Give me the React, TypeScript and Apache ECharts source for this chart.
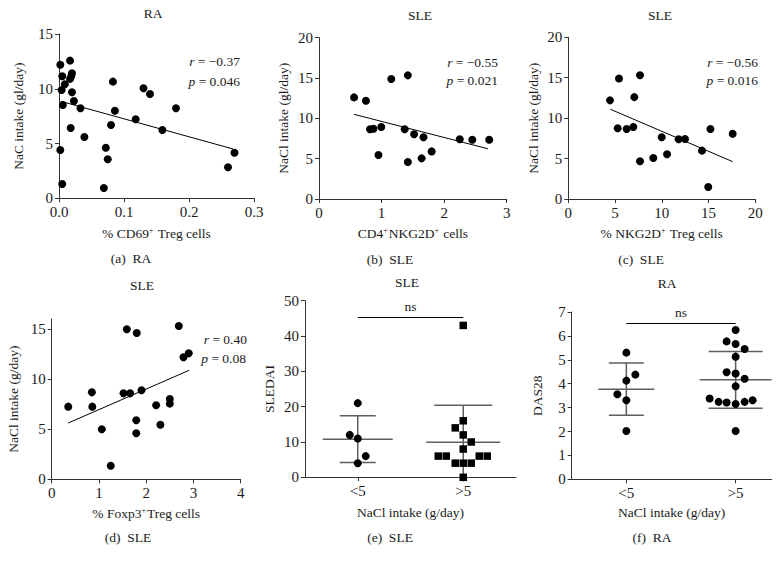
import React, { useEffect, useRef } from 'react';
import * as echarts from 'echarts';

// (a) RA: % CD69+ Treg cells vs NaCl intake
const aX = [0.002, 0.017, 0.005, 0.020, 0.019, 0.017, 0.009, 0.004, 0.020, 0.023, 0.006, 0.033, 0.018, 0.039, 0.002, 0.005, 0.083, 0.086, 0.080, 0.072, 0.075, 0.069, 0.118, 0.130, 0.140, 0.159, 0.180, 0.270, 0.260];
const aY = [12.2, 12.57, 11.14, 11.42, 11.17, 10.9, 10.41, 9.89, 9.68, 8.89, 8.52, 8.22, 6.42, 5.6, 4.41, 1.31, 10.65, 8.0, 6.69, 4.62, 3.56, 0.94, 7.21, 10.05, 9.52, 6.24, 8.22, 4.16, 2.83];
const aFit = [[0.003, 8.85], [0.268, 4.5]];
const aStat = ['−0.37', '0.046'];

// (b) SLE: CD4+NKG2D+ cells
const bX = [0.56, 0.75, 1.155, 1.42, 0.815, 0.87, 0.995, 1.37, 1.52, 1.67, 2.25, 2.45, 2.72, 0.95, 1.42, 1.64, 1.80];
const bY = [12.6, 12.18, 14.87, 15.33, 8.64, 8.71, 8.92, 8.64, 8.02, 7.65, 7.4, 7.35, 7.35, 5.45, 4.58, 5.04, 5.9];
const bFit = [[0.56, 10.5], [2.70, 6.23]];
const bStat = ['−0.55', '0.021'];

// (c) SLE: % NKG2D+ Treg cells
const cX = [4.46, 5.42, 7.67, 7.06, 5.28, 6.24, 6.95, 9.99, 11.8, 12.48, 15.2, 17.58, 7.67, 9.09, 10.56, 14.3, 14.97];
const cY = [12.2, 14.9, 15.3, 12.6, 8.75, 8.66, 8.91, 7.63, 7.39, 7.43, 8.66, 8.08, 4.66, 5.07, 5.53, 5.98, 1.49];
const cFit = [[4.5, 11.1], [17.58, 4.62]];
const cStat = ['−0.56', '0.016'];

// (d) SLE: % Foxp3+ Treg cells
const dX = [0.35, 0.85, 0.86, 1.06, 1.25, 1.59, 1.80, 1.52, 1.66, 1.90, 1.79, 1.79, 2.21, 2.30, 2.50, 2.50, 2.69, 2.79, 2.90];
const dY = [7.25, 8.68, 7.25, 4.99, 1.36, 14.97, 14.6, 8.58, 8.58, 8.88, 5.89, 4.59, 7.39, 5.45, 8.01, 7.55, 15.3, 12.18, 12.58];
const dFit = [[0.35, 5.62], [2.91, 10.88]];
const dStat = ['0.40', '0.08'];

// (e) SLE: SLEDAI by NaCl intake group
const groupLabels = ['<5', '>5'];
const eLow = [21, 12, 11, 6, 4];
const eHigh = [43, 16, 14, 12, 10, 8, 6, 6, 6, 6, 4, 4, 4, 0];
const eMean = [10.8, 9.9];
const eLower = [4.2, -0.5];
const eUpper = [17.4, 20.4];
const eBracket = 45.4;

// (f) RA: DAS28 by NaCl intake group
const fLow = [5.30, 4.38, 4.13, 3.56, 3.31, 2.02];
const fHigh = [6.25, 5.77, 5.66, 5.45, 5.13, 4.48, 4.43, 4.21, 3.89, 3.38, 3.24, 3.21, 3.15, 3.24, 3.31, 2.02];
const fMean = [3.77, 4.17];
const fLower = [2.68, 2.97];
const fUpper = [4.87, 5.35];
const fBracket = 6.55;

// visual jitter (px) and bar widths (px) — styling only
const eLowJit = [0, -8, 0, 8, 0];
const eHighJit = [0, 0, -8, 0, 8, 0, -25, -17, 16, 24, -8, 0, 8, 0];
const fLowJit = [0, 9, 0, -9, 0, 0];
const fHighJit = [0, -9, 0, 9, 0, -9, 0, 9, 0, -26, -17, -9, 0, 9, 17, 0];
const eMeanHalf = [35, 37];
const eCapHalf = [18, 29];
const fMeanHalf = [28, 36];
const fCapHalf = [17.5, 27];

const FONT = '"Liberation Serif", "DejaVu Serif", serif';
const TXT = '#1a1a1a';
const AX = '#333';
const ERR = '#5e5e5e';

const grids = [
  { left: 59, top: 34, width: 195, height: 164.3 },
  { left: 319, top: 37.7, width: 187.7, height: 161.3 },
  { left: 568.3, top: 37.3, width: 187, height: 161.7 },
  { left: 51.7, top: 319, width: 189, height: 160.3 },
  { left: 305, top: 300.7, width: 211, height: 176.6 },
  { left: 571.7, top: 312, width: 200, height: 167.3 },
];

const nameRich = {
  s: { fontSize: 8, fontFamily: FONT, color: TXT, verticalAlign: 'top', padding: [0, 1, 6, 0] },
};

function axis(gridIndex: number, o: any) {
  const { labelExtra, tickExtra, ...rest } = o;
  return {
    type: 'value',
    gridIndex,
    nameLocation: 'middle',
    nameTextStyle: { color: TXT, fontFamily: FONT, fontSize: 13.5, rich: nameRich },
    axisLine: { show: true, onZero: false, lineStyle: { color: AX, width: 1 } },
    axisTick: { show: true, length: 4, lineStyle: { color: AX, width: 1 }, ...(tickExtra || {}) },
    axisLabel: { color: TXT, fontFamily: FONT, fontSize: 15, margin: 6, ...(labelExtra || {}) },
    splitLine: { show: false },
    ...rest,
  };
}

const pairs = (xs: number[], ys: number[]) => xs.map((x, i) => [x, ys[i]]);

function scatter(idx: number, data: any[], symbol = 'circle', size = 8) {
  return {
    type: 'scatter', xAxisIndex: idx, yAxisIndex: idx, data, symbol, symbolSize: size,
    itemStyle: { color: '#000', opacity: 1 }, z: 3, silent: true,
  };
}

function fitLine(idx: number, pts: number[][]) {
  return {
    type: 'line', xAxisIndex: idx, yAxisIndex: idx, data: pts, showSymbol: false, symbol: 'none',
    lineStyle: { color: '#000', width: 1 }, z: 2, silent: true,
  };
}

function groupPoints(values: number[], group: number, jit: number[]) {
  return values.map((v, i) => ({ value: [group, v], symbolOffset: [jit[i], 0] }));
}

function errSeries(idx: number, mean: number[], lower: number[], upper: number[], meanHalf: number[], capHalf: number[]) {
  return {
    type: 'custom', xAxisIndex: idx, yAxisIndex: idx, clip: true, z: 1, silent: true,
    data: mean.map((m, i) => [i + 1, m, lower[i], upper[i]]),
    encode: { x: 0, y: 1 },
    renderItem: (params: any, api: any) => {
      const i = params.dataIndex;
      const x = api.value(0);
      const pm = api.coord([x, api.value(1)]);
      const plo = api.coord([x, api.value(2)]);
      const phi = api.coord([x, api.value(3)]);
      const mh = meanHalf[i];
      const ch = capHalf[i];
      const st = { stroke: ERR, lineWidth: 1.5 };
      return {
        type: 'group',
        children: [
          { type: 'line', shape: { x1: pm[0] - mh, y1: pm[1], x2: pm[0] + mh, y2: pm[1] }, style: st },
          { type: 'line', shape: { x1: plo[0], y1: plo[1], x2: phi[0], y2: phi[1] }, style: st },
          { type: 'line', shape: { x1: phi[0] - ch, y1: phi[1], x2: phi[0] + ch, y2: phi[1] }, style: st },
          { type: 'line', shape: { x1: plo[0] - ch, y1: plo[1], x2: plo[0] + ch, y2: plo[1] }, style: st },
        ],
      };
    },
  };
}

function bracket(idx: number, y: number) {
  return {
    type: 'scatter', xAxisIndex: idx, yAxisIndex: idx, data: [], silent: true,
    markLine: {
      silent: true, symbol: ['none', 'none'], animation: false,
      lineStyle: { color: '#000', width: 1, type: 'solid' },
      label: { show: true, position: 'middle', formatter: 'ns', color: TXT, fontFamily: FONT, fontSize: 13.5, distance: 3 },
      data: [[{ coord: [1, y] }, { coord: [2, y] }]],
    },
  };
}

function txt(x: number, y: number, text: string, align = 'center') {
  return {
    type: 'text', x, y,
    style: { text, fill: TXT, font: `13.5px ${FONT}`, align, verticalAlign: 'middle' },
  };
}

function stat(x: number, y: number, letter: string, val: string) {
  return {
    type: 'text', x, y,
    style: {
      text: `{i|${letter}} = ${val}`,
      fill: TXT, fontFamily: FONT, fontSize: 13.5, align: 'right', verticalAlign: 'middle',
      rich: { i: { fontStyle: 'italic', fontFamily: FONT, fontSize: 13.5, fill: TXT } },
    },
  };
}

const groupFmt = (v: number) => (v === 1 ? groupLabels[0] : v === 2 ? groupLabels[1] : '');

export default function App() {
  const ref = useRef<HTMLDivElement>(null);
  useEffect(() => {
    if (!ref.current) return;
    const chart = echarts.init(ref.current, undefined, { renderer: 'svg' });
    const option: any = {
      animation: false,
      backgroundColor: '#fff',
      grid: grids.map((g) => ({ ...g, containLabel: false })),
      xAxis: [
        axis(0, { min: 0, max: 0.3, interval: 0.1, name: '% CD69{s|+} Treg cells', nameGap: 28, labelExtra: { formatter: (v: number) => v.toFixed(1) } }),
        axis(1, { min: 0, max: 3, interval: 1, name: 'CD4{s|+}NKG2D{s|+} cells', nameGap: 27 }),
        axis(2, { min: 0, max: 20, interval: 5, name: '% NKG2D{s|+} Treg cells', nameGap: 27 }),
        axis(3, { min: 0, max: 4, interval: 1, name: '% Foxp3{s|+}Treg cells', nameGap: 27 }),
        axis(4, { min: 0.5, max: 2.5, name: 'NaCl intake (g/day)', nameGap: 28, labelExtra: { customValues: [1, 2], formatter: groupFmt }, tickExtra: { customValues: [1, 2] } }),
        axis(5, { min: 0.5, max: 2.33, name: 'NaCl intake (g/day)', nameGap: 26, labelExtra: { customValues: [1, 2], formatter: groupFmt }, tickExtra: { customValues: [1, 2] } }),
      ],
      yAxis: [
        axis(0, { min: 0, max: 15, interval: 5, name: 'NaC intake (gl/day)', nameGap: 34 }),
        axis(1, { min: 0, max: 20, interval: 5, name: 'NaCl intake (gl/day)', nameGap: 29 }),
        axis(2, { min: 0, max: 20, interval: 5, name: 'NaCl intake (gl/day)', nameGap: 28 }),
        axis(3, { min: 0, max: 16, interval: 5, name: 'NaCl intake (g/day)', nameGap: 31, labelExtra: { customValues: [0, 5, 10, 15] }, tickExtra: { customValues: [0, 5, 10, 15] } }),
        axis(4, { min: 0, max: 50, interval: 10, name: 'SLEDAI', nameGap: 29 }),
        axis(5, { min: 0, max: 7, interval: 1, name: 'DAS28', nameGap: 27 }),
      ],
      series: [
        scatter(0, pairs(aX, aY)), fitLine(0, aFit),
        scatter(1, pairs(bX, bY)), fitLine(1, bFit),
        scatter(2, pairs(cX, cY)), fitLine(2, cFit),
        scatter(3, pairs(dX, dY)), fitLine(3, dFit),
        errSeries(4, eMean, eLower, eUpper, eMeanHalf, eCapHalf),
        scatter(4, groupPoints(eLow, 1, eLowJit)),
        scatter(4, groupPoints(eHigh, 2, eHighJit), 'rect', 7.5),
        bracket(4, eBracket),
        errSeries(5, fMean, fLower, fUpper, fMeanHalf, fCapHalf),
        scatter(5, groupPoints(fLow, 1, fLowJit)),
        scatter(5, groupPoints(fHigh, 2, fHighJit)),
        bracket(5, fBracket),
      ],
      graphic: [
        txt(153, 13.5, 'RA'),
        txt(420, 15.5, 'SLE'),
        txt(660, 15.5, 'SLE'),
        txt(142, 285, 'SLE'),
        txt(407, 282, 'SLE'),
        txt(667, 283, 'RA'),
        txt(131, 258, '(a)\u2002RA'),
        txt(390, 259, '(b)\u2002SLE'),
        txt(641, 259, '(c)\u2002SLE'),
        txt(128, 537, '(d)\u2002SLE'),
        txt(390, 537, '(e)\u2002SLE'),
        txt(652, 537, '(f)\u2002RA'),
        stat(240, 61, 'r', aStat[0]), stat(240, 81, 'p', aStat[1]),
        stat(498, 62, 'r', bStat[0]), stat(498, 80.5, 'p', bStat[1]),
        stat(758, 62, 'r', cStat[0]), stat(758, 80.5, 'p', cStat[1]),
        stat(247, 339.5, 'r', dStat[0]), stat(246, 358, 'p', dStat[1]),
      ],
    };
    chart.setOption(option);
    return () => chart.dispose();
  }, []);
  return <div ref={ref} style={{ position: 'fixed', left: 0, top: 0, width: 781, height: 564, background: '#fff' }} />;
}
